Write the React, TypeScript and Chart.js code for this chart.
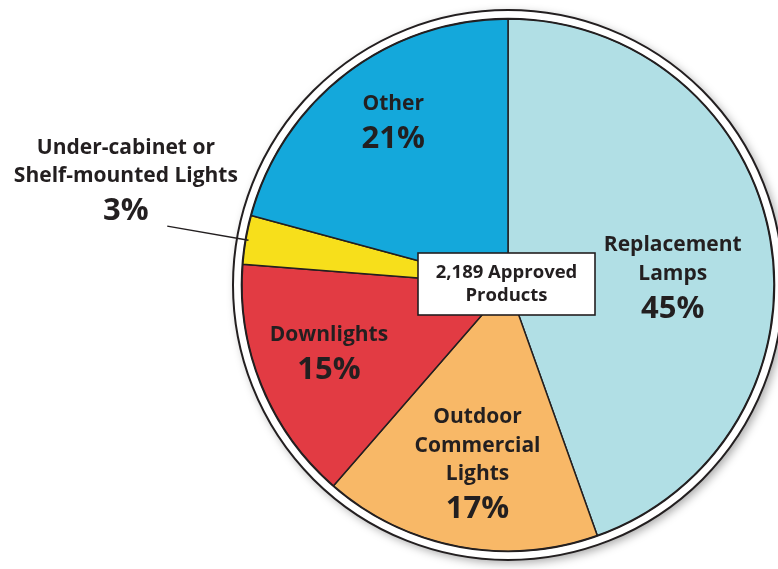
import { useEffect, useRef } from "react";
import { Chart, registerables } from "chart.js";

Chart.register(...registerables);

const categories = [
  "Replacement Lamps",
  "Outdoor Commercial Lights",
  "Downlights",
  "Under-cabinet or Shelf-mounted Lights",
  "Other",
];
const shares = [45, 17, 15, 3, 21];
const labelLines = [
  ["Replacement", "Lamps"],
  ["Outdoor", "Commercial", "Lights"],
  ["Downlights"],
  ["Under-cabinet or", "Shelf-mounted Lights"],
  ["Other"],
];
const totalLines = ["2,189 Approved", "Products"];

// styling
const colors = ["#b1dfe5", "#f8b867", "#e23b43", "#f7df1b", "#14a8db"];
const labelDist = [0.62, 0.68, 0.72, 1.49, 0.75];
const labelTurn = [7, -1, 1.5, 5.6, 2.3];
const INK = "#231f20";
const FONT = "'Open Sans', 'Noto Sans', sans-serif";

const decor = {
  id: "decor",
  beforeDatasetsDraw(chart: any) {
    const ctx = chart.ctx as CanvasRenderingContext2D;
    const arc: any = chart.getDatasetMeta(0).data[0];
    const x = arc.x, y = arc.y, r = arc.outerRadius;
    ctx.save();
    ctx.shadowColor = "rgba(0,0,0,0.35)";
    ctx.shadowBlur = 10;
    ctx.shadowOffsetX = 3;
    ctx.shadowOffsetY = 3;
    ctx.beginPath();
    ctx.arc(x, y, r + 9, 0, Math.PI * 2);
    ctx.fillStyle = "#ffffff";
    ctx.fill();
    ctx.restore();
    ctx.save();
    ctx.beginPath();
    ctx.arc(x, y, r + 9, 0, Math.PI * 2);
    ctx.strokeStyle = INK;
    ctx.lineWidth = 2;
    ctx.stroke();
    ctx.restore();
  },
  afterDatasetsDraw(chart: any) {
    const ctx = chart.ctx as CanvasRenderingContext2D;
    const meta = chart.getDatasetMeta(0);
    const first: any = meta.data[0];
    const cx = first.x, cy = first.y, r = first.outerRadius;
    ctx.save();
    ctx.beginPath();
    ctx.arc(cx, cy, r + 0.5, 0, Math.PI * 2);
    ctx.strokeStyle = INK;
    ctx.lineWidth = 1.6;
    ctx.stroke();

    meta.data.forEach((el: any, i: number) => {
      const mid = (el.startAngle + el.endAngle) / 2;
      const ang = mid + (labelTurn[i] * Math.PI) / 180;
      const d = labelDist[i] * r;
      const lx = cx + Math.cos(ang) * d;
      const ly = cy + Math.sin(ang) * d;
      if (labelDist[i] > 1) {
        ctx.beginPath();
        ctx.moveTo(cx + Math.cos(mid) * r * 0.99, cy + Math.sin(mid) * r * 0.99);
        ctx.lineTo(cx + Math.cos(mid) * r * 1.3, cy + Math.sin(mid) * r * 1.3);
        ctx.strokeStyle = INK;
        ctx.lineWidth = 1.5;
        ctx.stroke();
      }
      const lines = labelLines[i];
      const n = lines.length;
      const step = 28.5;
      const pctGap = 35;
      const top = ly - (step * (n - 1) + pctGap) / 2;
      ctx.fillStyle = INK;
      ctx.textAlign = "center";
      ctx.textBaseline = "middle";
      ctx.font = `bold 21px ${FONT}`;
      lines.forEach((t, k) => ctx.fillText(t, lx, top + k * step));
      ctx.font = `bold 31px ${FONT}`;
      ctx.fillText(`${shares[i]}%`, lx, top + (n - 1) * step + pctGap);
    });

    // center box
    const bw = 177, bh = 62;
    const bx = cx - 1.5 - bw / 2, by = cy - 1 - bh / 2;
    ctx.fillStyle = "#ffffff";
    ctx.fillRect(bx, by, bw, bh);
    ctx.strokeStyle = INK;
    ctx.lineWidth = 1.6;
    ctx.strokeRect(bx, by, bw, bh);
    ctx.fillStyle = INK;
    ctx.font = `bold 18.5px ${FONT}`;
    ctx.textAlign = "center";
    ctx.textBaseline = "middle";
    ctx.fillText(totalLines[0], cx - 1.5, cy - 12.5);
    ctx.fillText(totalLines[1], cx - 1.5, cy + 10.5);
    ctx.restore();
  },
};

export default function App() {
  const ref = useRef<HTMLCanvasElement | null>(null);
  useEffect(() => {
    if (!ref.current) return;
    const chart = new Chart(ref.current, {
      type: "pie",
      data: {
        labels: categories,
        datasets: [
          {
            data: shares,
            backgroundColor: colors,
            borderColor: INK,
            borderWidth: 1.5,
          },
        ],
      },
      options: {
        animation: false,
        responsive: false,
        radius: 266,
        layout: { padding: 0 },
        plugins: {
          legend: { display: false },
          tooltip: { enabled: false },
        },
      },
      plugins: [decor],
    } as any);
    return () => chart.destroy();
  }, []);
  return (
    <div
      style={{
        position: "fixed",
        left: 0,
        top: 0,
        width: 778,
        height: 569,
        overflow: "hidden",
        background: "#ffffff",
      }}
    >
      <canvas ref={ref} width={1016} height={570} style={{ display: "block" }} />
    </div>
  );
}
